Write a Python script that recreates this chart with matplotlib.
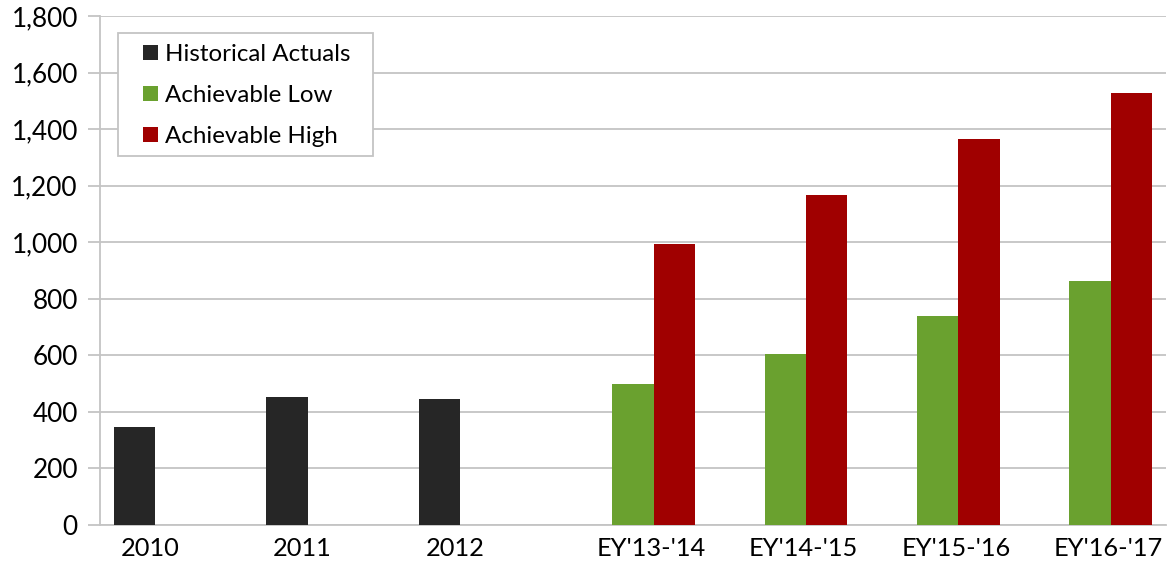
import matplotlib.pyplot as plt
from matplotlib.patches import Rectangle
import numpy as np

categories = ["2010", "2011", "2012", "EY'13-'14", "EY'14-'15", "EY'15-'16", "EY'16-'17"]
historical = [347, 453, 445, None, None, None, None]
achievable_low = [None, None, None, 499, 603, 738, 864]
achievable_high = [None, None, None, 994, 1167, 1365, 1527]
y_ticks = [0, 200, 400, 600, 800, 1000, 1200, 1400, 1600, 1800]

colors = {"Historical Actuals": "#262626",
          "Achievable Low": "#6AA12F",
          "Achievable High": "#A00000"}

plt.rcParams['font.family'] = ['Lato', 'DejaVu Sans']

W, H = 1167, 571
fig = plt.figure(figsize=(W / 100, H / 100), dpi=100)
ax = fig.add_axes([100 / W, 46 / H, 1066 / W, 509 / H])

x = np.arange(len(categories))
w = 0.272
series = [("Historical Actuals", historical, -w),
          ("Achievable Low", achievable_low, 0.0),
          ("Achievable High", achievable_high, w)]
for name, vals, off in series:
    xs = [xi + off for xi, v in zip(x, vals) if v is not None]
    vs = [v for v in vals if v is not None]
    ax.bar(xs, vs, width=w, color=colors[name], label=name, zorder=3,
           edgecolor='none')

grid_col = '#C4C4C4'
ax.set_xlim(-0.5, len(categories) - 0.5)
ax.set_ylim(0, 1800)
ax.set_yticks(y_ticks)
ax.set_yticklabels([f"{t:,}" for t in y_ticks], fontsize=18.8, color='#000000')
ax.yaxis.grid(True, color=grid_col, linewidth=1.3, zorder=0)
ax.tick_params(axis='y', length=9, width=1.3, color=grid_col, pad=7)

# Category labels: historical years sit slightly left, projections slightly right
label_shift = [-0.17 if c[0].isdigit() else 0.12 for c in categories]
ax.set_xticks(x + np.array(label_shift))
ax.set_xticklabels(categories, fontsize=18.3, color='#000000')
ax.tick_params(axis='x', length=0, pad=9)

for side in ['top', 'right']:
    ax.spines[side].set_visible(False)
for side in ['left', 'bottom']:
    ax.spines[side].set_color(grid_col)
    ax.spines[side].set_linewidth(1.3)

def to_axes(px, py):
    """Figure pixel position (from top-left) to axes fraction."""
    return (px - 100) / 1066, (H - py - 46) / 509

# Legend entries without their own frame; a separate box is drawn around them
lx, ly = to_axes(143, 44)
leg = ax.legend(loc='upper left', bbox_to_anchor=(lx, ly),
                fontsize=17.4, frameon=False, handlelength=0.62,
                handleheight=0.62, handletextpad=0.3, labelspacing=0.83,
                borderpad=0, borderaxespad=0)

bx0, by1 = to_axes(118, 33)
bx1, by0 = to_axes(373, 156)
ax.add_patch(Rectangle((bx0, by0), bx1 - bx0, by1 - by0, transform=ax.transAxes,
                       facecolor='white', edgecolor=grid_col, linewidth=1.3,
                       zorder=4, clip_on=False))
leg.set_zorder(5)

fig.savefig('out.png', dpi=100)
